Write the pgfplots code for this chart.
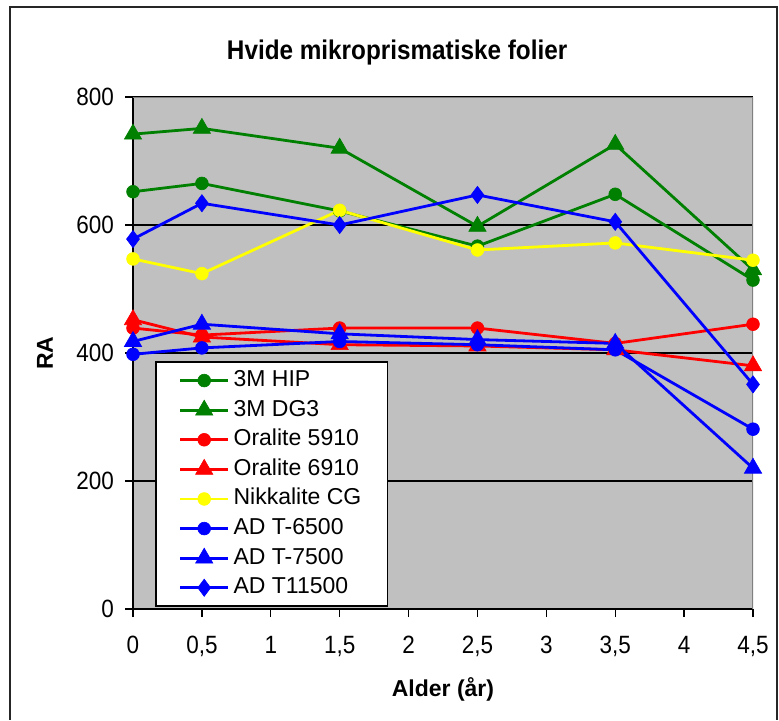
\documentclass[border=0pt]{standalone}
\usepackage{fontspec}
\setmainfont{Liberation Sans}
\newfontfamily\titlefont[FakeStretch=0.9]{Liberation Sans}
\newfontfamily\tickfont[FakeStretch=0.9]{Liberation Sans}
\usepackage{pgfplots}
\pgfplotsset{compat=1.18}

\definecolor{xlgreen}{HTML}{008000}
\definecolor{xlred}{HTML}{FF0000}
\definecolor{xlyellow}{HTML}{FFFF00}
\definecolor{xlblue}{HTML}{0000FF}
\definecolor{plotgray}{HTML}{C0C0C0}
\definecolor{framegray}{HTML}{808080}

\pgfplotsset{
  serie/.style={line width=1.4pt, mark options={solid, line width=0.3pt}},
  circ/.style={serie, mark=*, mark size=3.2pt},
  tri/.style={serie, mark=triangle*, mark size=5pt},
  dia/.style={serie, mark=diamond*, mark size=4.3pt},
}

\begin{document}
\begin{tikzpicture}
  % page = 779 x 720 px, 1 px = 0.5 pt
  \useasboundingbox (0pt,0pt) rectangle (389.5pt,360pt);
  \draw[line width=0.8pt, black!85] (5pt,0pt) -- (5pt,356.5pt) -- (388.5pt,356.5pt) -- (388.5pt,0pt);

  \begin{axis}[
      at={(66.5pt,55.5pt)}, anchor=origin,
      width=310pt, height=256pt, scale only axis,
      xmin=0, xmax=4.5, ymin=0, ymax=800,
      xtick={0,0.5,1,1.5,2,2.5,3,3.5,4,4.5},
      ytick={0,200,400,600,800},
      axis x line*=bottom, axis y line*=left,
      axis line style={-, black, line width=0.9pt},
      axis background/.style={fill=plotgray},
      ymajorgrids, grid style={black, line width=0.7pt},
      tick align=outside, major tick length=4pt,
      tick style={black, line width=0.7pt},
      /pgf/number format/use comma,
      /pgf/number format/assume math mode=true,
      ticklabel style={font=\tickfont\fontsize{12.5}{14}\selectfont},
      xticklabel style={yshift=-6pt},
      yticklabel style={xshift=-2pt},
      title={Hvide mikroprismatiske folier},
      title style={at={(axis description cs:0.426,1.063)}, anchor=center,
        font=\titlefont\bfseries\fontsize{13.5}{15}\selectfont},
      xlabel={Alder (år)},
      xlabel style={at={(axis description cs:0.5,-0.158)}, anchor=center,
        font=\bfseries\fontsize{11.5}{13}\selectfont},
      ylabel={RA},
      ylabel style={at={(axis description cs:-0.142,0.5)}, anchor=center,
        font=\bfseries\fontsize{11.5}{13}\selectfont},
      legend cell align=left,
      legend image code/.code={\draw[mark repeat=2,mark phase=2]
        plot coordinates {(0pt,0pt) (12pt,0pt) (24pt,0pt)};},
      legend style={at={(axis description cs:0.0355,0.004)}, anchor=south west,
        draw=black, line width=0.8pt, fill=white,
        font=\fontsize{11.5}{13}\selectfont,
        row sep=0pt, column sep=0.5pt, inner xsep=11.5pt, inner ysep=1.8pt,
        nodes={text height=8.4pt, text depth=2.4pt, inner ysep=2pt, inner xsep=1.5pt}},
    ]
    \addplot[circ, color=xlgreen] coordinates
      {(0,652) (0.5,665) (1.5,622) (2.5,567) (3.5,648) (4.5,514)};
    \addplot[tri, color=xlgreen] coordinates
      {(0,742) (0.5,751) (1.5,720) (2.5,598) (3.5,726) (4.5,530)};
    \addplot[circ, color=xlred] coordinates
      {(0,439) (0.5,428) (1.5,439) (2.5,439) (3.5,415) (4.5,445)};
    \addplot[tri, color=xlred] coordinates
      {(0,452) (0.5,425) (1.5,413) (2.5,411) (3.5,405) (4.5,380)};
    \addplot[circ, color=xlyellow] coordinates
      {(0,547) (0.5,524) (1.5,623) (2.5,561) (3.5,572) (4.5,545)};
    \addplot[circ, color=xlblue] coordinates
      {(0,398) (0.5,408) (1.5,418) (2.5,413) (3.5,405) (4.5,281)};
    \addplot[tri, color=xlblue] coordinates
      {(0,418) (0.5,445) (1.5,430) (2.5,421) (3.5,415) (4.5,220)};
    \addplot[dia, color=xlblue] coordinates
      {(0,578) (0.5,634) (1.5,600) (2.5,647) (3.5,605) (4.5,351)};
    \legend{3M HIP, 3M DG3, Oralite 5910, Oralite 6910, Nikkalite CG,
      AD T-6500, AD T-7500, AD T11500}
    \draw[framegray, line width=0.8pt]
      (rel axis cs:0,1) -- (rel axis cs:1,1) -- (rel axis cs:1,0);
  \end{axis}
\end{tikzpicture}
\end{document}
